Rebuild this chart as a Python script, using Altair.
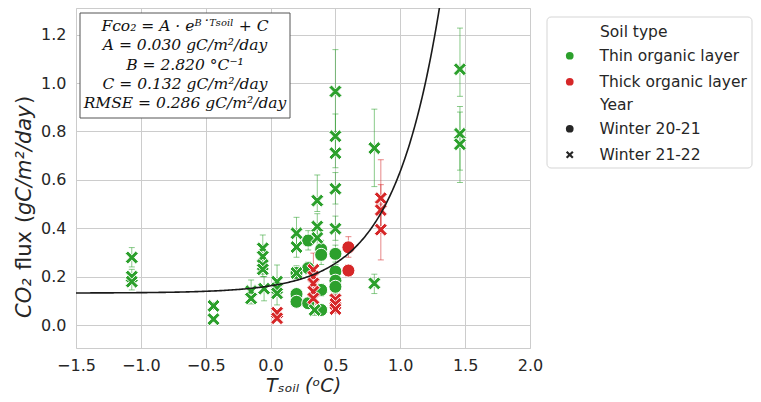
import altair as alt
import pandas as pd
import numpy as np

THIN = "Thin organic layer"
THICK = "Thick organic layer"
W1 = "Winter 20-21"
W2 = "Winter 21-22"

# ---- Thin organic layer, Winter 21-22 (X markers)
thin_x_t = [-1.07, -1.07, -1.07, -0.44, -0.44, -0.15, -0.15, -0.06, -0.06, -0.06, -0.06, -0.05,
            0.05, 0.05, 0.05, 0.20, 0.20, 0.20, 0.36, 0.36, 0.36, 0.34,
            0.50, 0.50, 0.50, 0.50, 0.50, 0.80, 0.80, 1.46, 1.46, 1.46]
thin_x_f = [0.279, 0.200, 0.179, 0.079, 0.024, 0.140, 0.110, 0.317, 0.283, 0.248, 0.230, 0.150,
            0.179, 0.152, 0.131, 0.379, 0.322, 0.215, 0.514, 0.407, 0.360, 0.062,
            0.965, 0.780, 0.710, 0.563, 0.398, 0.731, 0.172, 1.057, 0.790, 0.747]
thin_x_lo = [0.240, 0.170, 0.145, 0.065, 0.015, 0.110, 0.087, 0.270, 0.250, 0.210, 0.200, 0.100,
             0.140, 0.120, 0.083, 0.330, 0.280, 0.190, 0.469, 0.360, 0.300, 0.040,
             0.800, 0.700, 0.650, 0.500, 0.350, 0.572, 0.130, 0.945, 0.640, 0.589]
thin_x_hi = [0.320, 0.230, 0.210, 0.093, 0.033, 0.186, 0.135, 0.372, 0.330, 0.290, 0.260, 0.200,
             0.248, 0.190, 0.170, 0.445, 0.370, 0.240, 0.620, 0.460, 0.420, 0.090,
             1.138, 0.872, 0.780, 0.630, 0.450, 0.892, 0.210, 1.227, 0.903, 0.880]

# ---- Thin organic layer, Winter 20-21 (circles)
thin_o_t = [0.20, 0.20, 0.20, 0.29, 0.29, 0.29, 0.39, 0.39, 0.39, 0.39, 0.50, 0.50, 0.50, 0.50]
thin_o_f = [0.215, 0.128, 0.096, 0.349, 0.235, 0.090, 0.313, 0.290, 0.145, 0.062, 0.294, 0.221, 0.183, 0.158]
thin_o_lo = [0.190, 0.110, 0.080, 0.310, 0.210, 0.070, 0.280, 0.250, 0.120, 0.045, 0.260, 0.190, 0.160, 0.130]
thin_o_hi = [0.245, 0.150, 0.115, 0.390, 0.260, 0.110, 0.350, 0.330, 0.170, 0.080, 0.330, 0.250, 0.210, 0.190]

# ---- Thick organic layer, Winter 21-22 (X markers)
thick_x_t = [0.05, 0.05, 0.33, 0.33, 0.33, 0.33, 0.33, 0.50, 0.50, 0.50, 0.85, 0.85, 0.85]
thick_x_f = [0.051, 0.028, 0.228, 0.200, 0.172, 0.138, 0.110, 0.106, 0.087, 0.066, 0.524, 0.475, 0.394]
thick_x_lo = [0.035, 0.015, 0.190, 0.170, 0.140, 0.110, 0.085, 0.090, 0.070, 0.050, 0.400, 0.380, 0.269]
thick_x_hi = [0.065, 0.040, 0.297, 0.240, 0.210, 0.170, 0.140, 0.125, 0.105, 0.085, 0.683, 0.580, 0.500]

# ---- Thick organic layer, Winter 20-21 (circles)
thick_o_t = [0.60, 0.60]
thick_o_f = [0.321, 0.225]
thick_o_lo = [0.280, 0.200]
thick_o_hi = [0.365, 0.250]

# ---- fitted model parameters (from the annotation)
FIT_A, FIT_B, FIT_C = 0.030, 2.820, 0.132
RMSE = 0.286

x_ticks = [-1.5, -1.0, -0.5, 0.0, 0.5, 1.0, 1.5, 2.0]
y_ticks = [0.0, 0.2, 0.4, 0.6, 0.8, 1.0, 1.2]

# y-axis title pieces (text, font style) read bottom to top
ytitle_parts = ["CO₂", "flux", "(", "gC/m²/day", ")"]
ytitle_styles = ["italic", "normal", "normal", "italic", "normal"]


def group(t, f, lo, hi, soil, year):
    return pd.DataFrame({"T": t, "flux": f, "lo": lo, "hi": hi,
                         "soil": [soil] * len(t), "year": [year] * len(t)})


df = pd.concat([
    group(thin_o_t, thin_o_f, thin_o_lo, thin_o_hi, THIN, W1),
    group(thin_x_t, thin_x_f, thin_x_lo, thin_x_hi, THIN, W2),
    group(thick_o_t, thick_o_f, thick_o_lo, thick_o_hi, THICK, W1),
    group(thick_x_t, thick_x_f, thick_x_lo, thick_x_hi, THICK, W2),
], ignore_index=True)

t_grid = np.linspace(-1.5, 1.36, 300)
fit_df = pd.DataFrame({"T": t_grid, "flux": FIT_A * np.exp(FIT_B * t_grid) + FIT_C})

X_PATH = ("M -1 -0.6 L -0.6 -1 L 0 -0.4 L 0.6 -1 L 1 -0.6 L 0.4 0 L 1 0.6 "
          "L 0.6 1 L 0 0.4 L -0.6 1 L -1 0.6 L -0.4 0 Z")

FONT = "DejaVu Sans"
TXT = "#262626"
LEG_FS = 15.5

xscale = alt.Scale(domain=[-1.5, 2.0], nice=False, zero=False)
yscale = alt.Scale(domain=[-0.095, 1.31], nice=False, zero=False)
cscale = alt.Scale(domain=[THIN, THICK], range=["#2ca02c", "#d62728"])
sscale = alt.Scale(domain=[W1, W2], range=["circle", X_PATH])

color_legend = alt.Legend(
    title=None, orient="none", legendX=486, legendY=40, padding=0,
    symbolType="circle", symbolSize=60, symbolStrokeWidth=0, symbolOpacity=1,
    labelFont=FONT, labelFontSize=LEG_FS, labelColor=TXT, labelOffset=22,
    rowPadding=9, labelLimit=300)
color_enc = alt.Color("soil:N", scale=cscale, legend=color_legend)

xaxis = alt.Axis(values=x_ticks, format=".1f", ticks=False, domain=False,
                 labelPadding=9, labelFlush=False, labelOverlap=False,
                 title="Tₛₒᵢₗ (ᵒC)", titleFontStyle="italic", titleFontSize=19,
                 titlePadding=3)
yaxis = alt.Axis(values=y_ticks, format=".1f", ticks=False, domain=False,
                 labelPadding=10, labelOverlap=False, title=None)

base = alt.Chart(df)

bars = base.mark_rule(strokeWidth=1, opacity=0.55).encode(
    x=alt.X("T:Q", scale=xscale, axis=xaxis),
    y=alt.Y("lo:Q", scale=yscale, axis=yaxis),
    y2="hi:Q",
    color=color_enc,
)
caps_lo = base.mark_tick(orient="horizontal", size=6, thickness=1, opacity=0.55).encode(
    x="T:Q", y="lo:Q", color=color_enc)
caps_hi = base.mark_tick(orient="horizontal", size=6, thickness=1, opacity=0.55).encode(
    x="T:Q", y="hi:Q", color=color_enc)

points = base.mark_point(filled=True, opacity=1, stroke="white", strokeWidth=1, size=170).encode(
    x="T:Q",
    y="flux:Q",
    color=color_enc,
    shape=alt.Shape("year:N", scale=sscale, legend=alt.Legend(
        title=None, orient="none", legendX=486, legendY=113, padding=0,
        symbolSize=60, symbolFillColor="#262626", symbolStrokeWidth=0,
        labelFont=FONT, labelFontSize=LEG_FS, labelColor=TXT, labelOffset=22,
        rowPadding=9, labelLimit=300)),
)

fit = alt.Chart(fit_df).mark_line(color="#1a1a1a", strokeWidth=1.6, clip=True).encode(
    x="T:Q", y="flux:Q")

one = pd.DataFrame({"k": [0]})

ann_box = alt.Chart(one).mark_rect(fill="white", stroke="#555555", strokeWidth=1).encode(
    x=alt.value(4), x2=alt.value(214), y=alt.value(5), y2=alt.value(110))

ann_lines = [
    "Fᴄᴏ₂ = A · eᴮ˙ᵀˢᵒⁱˡ + C",
    f"A = {FIT_A:.3f} gC/m²/day",
    f"B = {FIT_B:.3f} °C⁻¹",
    f"C = {FIT_C:.3f} gC/m²/day",
    f"RMSE = {RMSE:.3f} gC/m²/day",
]
ann_text = alt.Chart(one).mark_text(
    font="DejaVu Serif", fontStyle="italic", fontSize=15.5, color="#111111",
    align="center", baseline="top", lineHeight=19.3).encode(
    x=alt.value(109), y=alt.value(11), text=alt.value(ann_lines))

leg_box = alt.Chart(one).mark_rect(fill="white", stroke="#d5d5d5", strokeWidth=1,
                                   cornerRadius=4).encode(
    x=alt.value(471), x2=alt.value(676), y=alt.value(9), y2=alt.value(160))

hdr1 = alt.Chart(one).mark_text(font=FONT, fontSize=LEG_FS, color=TXT, align="left",
                                baseline="middle").encode(
    x=alt.value(524), y=alt.value(24), text=alt.value("Soil type"))
hdr2 = alt.Chart(one).mark_text(font=FONT, fontSize=LEG_FS, color=TXT, align="left",
                                baseline="middle").encode(
    x=alt.value(524), y=alt.value(97), text=alt.value("Year"))

# composite rotated y-axis title (mixed italic / upright like the mathtext original)
YT_SIZE = 21
ytitle_starts = [310, 262, 215, 207, 96]   # chart-pixel y where each piece begins (reading upward)
ytitle_layers = []
for part, style, y0 in zip(ytitle_parts, ytitle_styles, ytitle_starts):
    ytitle_layers.append(
        alt.Chart(one).mark_text(font=FONT, fontSize=YT_SIZE, fontStyle=style, color=TXT,
                                 angle=270, align="left", baseline="middle").encode(
            x=alt.value(-51), y=alt.value(y0), text=alt.value(part)))

chart = alt.layer(
    bars, caps_lo, caps_hi, points, fit, ann_box, ann_text, leg_box, hdr1, hdr2,
    *ytitle_layers
).properties(
    width=454, height=340,
    padding={"left": 68, "top": 0, "right": 223, "bottom": 46},
    autosize=alt.AutoSizeParams(type="none"),
).configure_view(
    stroke="#cccccc", strokeWidth=1
).configure_axis(
    gridColor="#cccccc", gridWidth=1, labelFont=FONT, labelFontSize=16,
    labelColor=TXT, titleFont=FONT, titleColor=TXT, titleFontWeight="normal"
)

chart.save("out.html", embed_options={"renderer": "svg", "actions": False})
